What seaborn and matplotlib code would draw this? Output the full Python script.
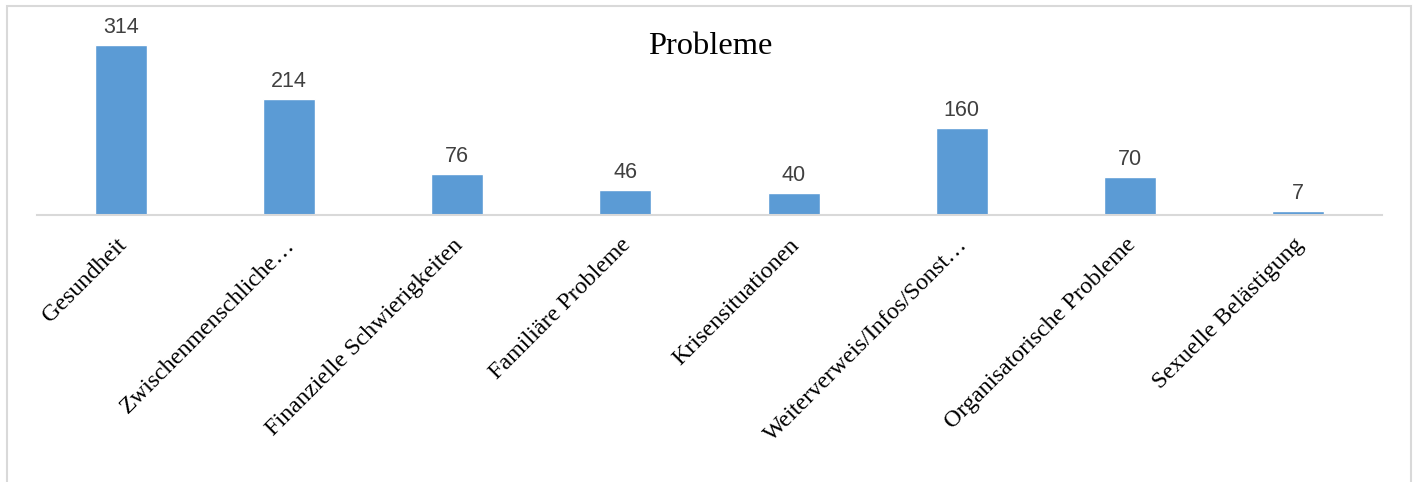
import matplotlib
matplotlib.use('Agg')
import matplotlib.pyplot as plt
import matplotlib.transforms as mtrans
import seaborn as sns
import pandas as pd
from matplotlib.patches import Rectangle

# Daten aus dem Diagramm
kategorien = ["Gesundheit", "Zwischenmenschliche…", "Finanzielle Schwierigkeiten",
              "Familiäre Probleme", "Krisensituationen", "Weiterverweis/Infos/Sonst…",
              "Organisatorische Probleme", "Sexuelle Belästigung"]
anzahl = [314, 214, 76, 46, 40, 160, 70, 7]

df = pd.DataFrame({"kategorie": kategorien, "anzahl": anzahl})

sns.set_theme(style="white")
plt.rcParams['font.family'] = ['Liberation Serif', 'DejaVu Serif']

fig = plt.figure(figsize=(14.14, 4.82), dpi=100)
ax = fig.add_axes([37 / 1414, 1 - 215 / 482, 1345 / 1414, 190 / 482])

sns.barplot(data=df, x="kategorie", y="anzahl", color="#5B9BD5", width=0.31,
            saturation=1, ax=ax)

ax.set_ylim(0, 350)
ax.set_xlim(-0.5, len(kategorien) - 0.5)

# Werte über den Balken
for i, v in enumerate(anzahl):
    ax.annotate(str(v), (i, v), xytext=(0, 5), textcoords="offset points",
                ha="center", va="bottom", fontsize=15.5, color="#404040",
                family=["Liberation Sans", "DejaVu Sans"])

ax.set_xlabel("")
ax.set_ylabel("")
ax.set_yticks([])
ax.tick_params(axis="x", length=0, pad=14)
verschiebung = mtrans.ScaledTranslation(-5 / 100, 0, fig.dpi_scale_trans)
for lbl in ax.get_xticklabels():
    lbl.set_rotation(45)
    lbl.set_ha("right")
    lbl.set_rotation_mode("anchor")
    lbl.set_fontsize(17.3)
    lbl.set_color("black")
    lbl.set_transform(lbl.get_transform() + verschiebung)

for s in ["top", "right", "left"]:
    ax.spines[s].set_visible(False)
ax.spines["bottom"].set_color("#D9D9D9")
ax.spines["bottom"].set_linewidth(1.5)

fig.text(710 / 1414, 1 - 47 / 482, "Probleme", ha="center", va="center",
         fontsize=23.4, color="black")

# Rahmen um das Diagramm
rahmen = Rectangle((7 / 1414, -0.1), 1404 / 1414, 1.1 - 6 / 482,
                   transform=fig.transFigure, fill=False, edgecolor="#D9D9D9",
                   linewidth=1.5, clip_on=False)
fig.patches.append(rahmen)

fig.savefig("out.png", dpi=100)
plt.close(fig)
